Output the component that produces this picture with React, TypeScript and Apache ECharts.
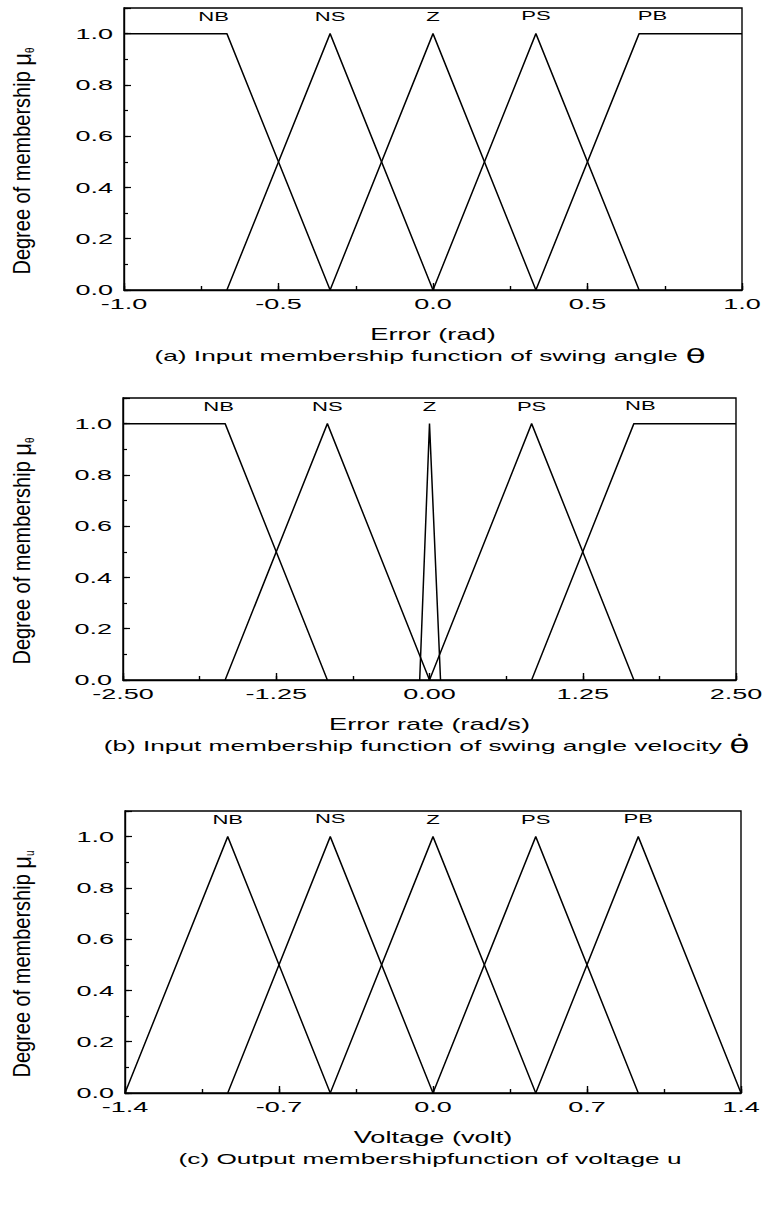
import React, { useEffect, useRef } from "react";
import * as echarts from "echarts";

// ---- data ----
// Panel (a): error (rad)
const errNB: [number, number][] = [[-1.0, 1], [-0.667, 1], [-0.333, 0]];
const errNS: [number, number][] = [[-0.667, 0], [-0.333, 1], [0.0, 0]];
const errZ: [number, number][] = [[-0.333, 0], [0.0, 1], [0.333, 0]];
const errPS: [number, number][] = [[0.0, 0], [0.333, 1], [0.667, 0]];
const errPB: [number, number][] = [[0.333, 0], [0.667, 1], [1.0, 1]];
const errLabels = ["NB", "NS", "Z", "PS", "PB"];
const errLabelX = [-0.71, -0.333, 0.0, 0.333, 0.71];
const errLabelY = [1.065, 1.065, 1.065, 1.07, 1.07];
const errTickVals = [-1.0, -0.5, 0.0, 0.5, 1.0];
const errTicks = ["-1.0", "-0.5", "0.0", "0.5", "1.0"];

// Panel (b): error rate (rad/s)
const rateNB: [number, number][] = [[-2.5, 1], [-1.667, 1], [-0.833, 0]];
const rateNS: [number, number][] = [[-1.667, 0], [-0.833, 1], [0.0, 0]];
const rateZ: [number, number][] = [[-0.08, 0], [0.0, 1], [0.09, 0]];
const ratePS: [number, number][] = [[0.0, 0], [0.833, 1], [1.667, 0]];
const rateNB2: [number, number][] = [[0.833, 0], [1.667, 1], [2.5, 1]];
const rateLabels = ["NB", "NS", "Z", "PS", "NB"];
const rateLabelX = [-1.72, -0.833, 0.0, 0.833, 1.72];
const rateLabelY = [1.065, 1.065, 1.065, 1.065, 1.07];
const rateTickVals = [-2.5, -1.25, 0.0, 1.25, 2.5];
const rateTicks = ["-2.50", "-1.25", "0.00", "1.25", "2.50"];

// Panel (c): voltage (volt)
const voltNB: [number, number][] = [[-1.4, 0], [-0.933, 1], [-0.467, 0]];
const voltNS: [number, number][] = [[-0.933, 0], [-0.467, 1], [0.0, 0]];
const voltZ: [number, number][] = [[-0.467, 0], [0.0, 1], [0.467, 0]];
const voltPS: [number, number][] = [[0.0, 0], [0.467, 1], [0.933, 0]];
const voltPB: [number, number][] = [[0.467, 0], [0.933, 1], [1.4, 0]];
const voltLabels = ["NB", "NS", "Z", "PS", "PB"];
const voltLabelX = [-0.933, -0.467, 0.0, 0.467, 0.933];
const voltLabelY = [1.065, 1.07, 1.065, 1.065, 1.07];
const voltTickVals = [-1.4, -0.7, 0.0, 0.7, 1.4];
const voltTicks = ["-1.4", "-0.7", "0.0", "0.7", "1.4"];

const yTickVals = [0, 0.2, 0.4, 0.6, 0.8, 1.0];
const yTicks = ["0.0", "0.2", "0.4", "0.6", "0.8", "1.0"];

const FONT = "Arial, 'Liberation Sans', sans-serif";

type Panel = {
  sets: [number, number][][];
  labels: string[];
  labelX: number[];
  labelY: number[];
  tickVals: number[];
  ticks: string[];
  min: number;
  max: number;
  interval: number;
  xName: string;
  sub: string;
  caption: string;
  sym: string;
  top: number;
  left: number;
  right: number;
};

const panels: Panel[] = [
  {
    sets: [errNB, errNS, errZ, errPS, errPB], labels: errLabels, labelX: errLabelX, labelY: errLabelY,
    tickVals: errTickVals, ticks: errTicks, min: -1, max: 1, interval: 0.5, xName: "Error (rad)", sub: "θ",
    caption: "(a) Input membership function of swing angle ", sym: "θ", top: 8, left: 124, right: 20,
  },
  {
    sets: [rateNB, rateNS, rateZ, ratePS, rateNB2], labels: rateLabels, labelX: rateLabelX, labelY: rateLabelY,
    tickVals: rateTickVals, ticks: rateTicks, min: -2.5, max: 2.5, interval: 1.25, xName: "Error rate (rad/s)", sub: "θ",
    caption: "(b) Input membership function of swing angle velocity ", sym: "θ̇", top: 398, left: 123, right: 26,
  },
  {
    sets: [voltNB, voltNS, voltZ, voltPS, voltPB], labels: voltLabels, labelX: voltLabelX, labelY: voltLabelY,
    tickVals: voltTickVals, ticks: voltTicks, min: -1.4, max: 1.4, interval: 0.7, xName: "Voltage (volt)", sub: "u",
    caption: "(c) Output membershipfunction of voltage u", sym: "", top: 811, left: 125, right: 21,
  },
];

const GRID_H = 282;
const SX_TICK = 1.8;
const SX_NAME = 1.6;
const SX_CAP = 1.75;
const SX_CAT = 1.7;

export default function App() {
  const ref = useRef<HTMLDivElement>(null);
  useEffect(() => {
    if (!ref.current) return;
    const chart = echarts.init(ref.current, undefined, { renderer: "svg" });
    const grid: any[] = [];
    const xAxis: any[] = [];
    const yAxis: any[] = [];
    const series: any[] = [];
    panels.forEach((p, i) => {
      grid.push({ left: p.left, right: p.right, top: p.top, height: GRID_H, show: true, borderColor: "#000", borderWidth: 1.4, backgroundColor: "transparent" });
      xAxis.push({
        type: "value", gridIndex: i, min: p.min, max: p.max, interval: p.interval, position: "bottom",
        axisLine: { show: true, onZero: false, lineStyle: { color: "#000", width: 1.4 } },
        axisTick: { show: true, inside: true, length: 7, lineStyle: { color: "#000", width: 1.4 } },
        axisLabel: { show: false }, splitLine: { show: false },
      });
      xAxis.push({
        type: "value", gridIndex: i, min: p.min, max: p.max, interval: p.interval / 2, position: "bottom",
        axisLine: { show: false, onZero: false },
        axisTick: { show: true, inside: true, length: 4, lineStyle: { color: "#000", width: 1.4 } },
        axisLabel: { show: false }, splitLine: { show: false },
      });
      yAxis.push({
        type: "value", gridIndex: i, min: 0, max: 1.1, interval: 0.2, position: "left",
        axisLine: { show: true, onZero: false, lineStyle: { color: "#000", width: 1.4 } },
        axisTick: { show: true, inside: true, length: 7, lineStyle: { color: "#000", width: 1.2 } },
        axisLabel: { show: false }, splitLine: { show: false },
      });
      yAxis.push({
        type: "value", gridIndex: i, min: 0, max: 1.1, interval: 0.1, position: "left",
        axisLine: { show: false, onZero: false },
        axisTick: { show: true, inside: true, length: 4, lineStyle: { color: "#000", width: 1.2 } },
        axisLabel: { show: false }, splitLine: { show: false },
      });
      p.sets.forEach((d) => {
        series.push({
          type: "line", xAxisIndex: i * 2, yAxisIndex: i * 2, data: d, symbol: "none",
          lineStyle: { color: "#000", width: 1.5 }, silent: true,
        });
      });
    });
    chart.setOption({ animation: false, backgroundColor: "#fff", grid, xAxis, yAxis, series });

    const graphic: any[] = [];
    panels.forEach((p, i) => {
      const px = (v: number) => chart.convertToPixel({ xAxisIndex: i * 2 }, v) as number;
      const py = (v: number) => chart.convertToPixel({ yAxisIndex: i * 2 }, v) as number;
      const axisY = py(0);
      const xl = px(p.min);
      const xr = px(p.max);
      const cx = (xl + xr) / 2;
      p.tickVals.forEach((v, k) => {
        graphic.push({
          type: "text", x: px(v), y: axisY + 14, scaleX: SX_TICK, silent: true,
          style: { text: p.ticks[k], fill: "#000", font: `15px ${FONT}`, align: "center", verticalAlign: "middle" },
        });
      });
      yTickVals.forEach((v, k) => {
        graphic.push({
          type: "text", x: xl - 11, y: py(v), scaleX: SX_TICK, silent: true,
          style: { text: yTicks[k], fill: "#000", font: `15px ${FONT}`, align: "right", verticalAlign: "middle" },
        });
      });
      p.labels.forEach((l, k) => {
        graphic.push({
          type: "text", x: px(p.labelX[k]), y: py(p.labelY[k]), scaleX: SX_CAT, silent: true,
          style: { text: l, fill: "#000", font: `13px ${FONT}`, align: "center", verticalAlign: "middle" },
        });
      });
      graphic.push({
        type: "text", x: cx, y: axisY + 44, scaleX: SX_NAME, silent: true,
        style: { text: p.xName, fill: "#000", font: `17px ${FONT}`, align: "center", verticalAlign: "middle" },
      });
      graphic.push({
        type: "text", x: 22, y: (py(0) + py(1.1)) / 2 + 12, rotation: Math.PI / 2, scaleY: 1.2, silent: true,
        style: {
          text: `{t|Degree of membership }{m|μ}{s|${p.sub}}`, fill: "#000", align: "center", verticalAlign: "middle",
          rich: {
            t: { font: `20px ${FONT}`, fill: "#000" },
            m: { font: `22px ${FONT}`, fill: "#000" },
            s: { font: `10px ${FONT}`, fill: "#000", verticalAlign: "bottom", padding: [8, 0, 0, 0] },
          },
        },
      });
      graphic.push({
        type: "text", x: cx - 3, y: axisY + 66, scaleX: SX_CAP, silent: true,
        style: {
          text: p.sym ? `${p.caption}{g|${p.sym}}` : p.caption,
          fill: "#000", font: `15px ${FONT}`, align: "center", verticalAlign: "middle",
          rich: { g: { font: `19px 'DejaVu Sans', sans-serif`, fill: "#000" } },
        },
      });
    });
    chart.setOption({ graphic });
    return () => chart.dispose();
  }, []);
  return <div ref={ref} style={{ position: "absolute", left: 0, top: 0, width: 762, height: 1205 }} />;
}
